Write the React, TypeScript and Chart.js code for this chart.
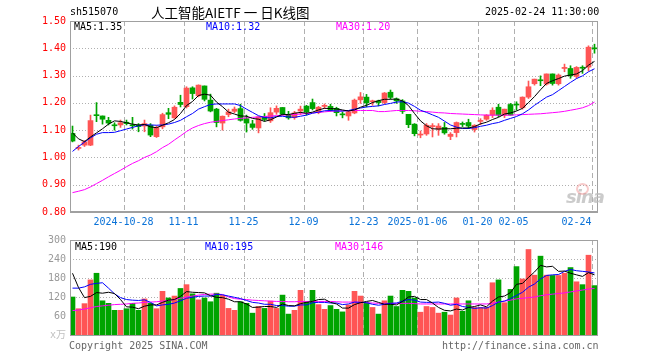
import React, { useEffect, useRef } from 'react';
import { Chart, registerables } from 'chart.js';

Chart.register(...registerables);

// ---- Daily K-line data (88 trading days, 2024-10-15 .. 2025-02-24) ----
const OPEN = [
  1.088, 1.033, 1.045, 1.045, 1.155, 1.152, 1.136, 1.118, 1.119, 1.129,
  1.117, 1.118, 1.115, 1.118, 1.076, 1.112, 1.164, 1.145, 1.202, 1.186,
  1.255, 1.226, 1.262, 1.210, 1.177, 1.126, 1.157, 1.169, 1.179, 1.142,
  1.123, 1.108, 1.150, 1.134, 1.166, 1.183, 1.156, 1.146, 1.170, 1.188,
  1.201, 1.165, 1.187, 1.187, 1.180, 1.158, 1.152, 1.163, 1.211, 1.221,
  1.204, 1.207, 1.201, 1.239, 1.215, 1.207, 1.158, 1.122, 1.082, 1.086,
  1.113, 1.103, 1.110, 1.077, 1.091, 1.123, 1.128, 1.102, 1.132, 1.140,
  1.155, 1.184, 1.155, 1.194, 1.195, 1.182, 1.221, 1.270, 1.283, 1.269,
  1.306, 1.270, 1.326, 1.326, 1.297, 1.330, 1.331, 1.400,
];
const HIGH = [
  1.115, 1.045, 1.062, 1.155, 1.201, 1.152, 1.147, 1.127, 1.137, 1.137,
  1.147, 1.124, 1.137, 1.124, 1.116, 1.162, 1.180, 1.189, 1.228, 1.259,
  1.259, 1.266, 1.262, 1.232, 1.180, 1.152, 1.177, 1.185, 1.195, 1.155,
  1.136, 1.149, 1.161, 1.182, 1.189, 1.183, 1.169, 1.169, 1.188, 1.191,
  1.214, 1.187, 1.196, 1.195, 1.184, 1.167, 1.172, 1.214, 1.238, 1.231,
  1.210, 1.210, 1.238, 1.247, 1.218, 1.212, 1.158, 1.124, 1.097, 1.124,
  1.124, 1.124, 1.128, 1.091, 1.130, 1.130, 1.140, 1.120, 1.142, 1.157,
  1.182, 1.195, 1.177, 1.198, 1.204, 1.222, 1.280, 1.287, 1.299, 1.306,
  1.306, 1.306, 1.342, 1.336, 1.333, 1.336, 1.409, 1.415,
];
const LOW = [
  1.057, 1.027, 1.040, 1.043, 1.131, 1.122, 1.119, 1.100, 1.110, 1.119,
  1.104, 1.094, 1.094, 1.076, 1.073, 1.105, 1.142, 1.143, 1.185, 1.181,
  1.214, 1.222, 1.207, 1.167, 1.112, 1.100, 1.149, 1.164, 1.133, 1.093,
  1.103, 1.090, 1.133, 1.128, 1.158, 1.155, 1.140, 1.140, 1.157, 1.155,
  1.174, 1.160, 1.179, 1.169, 1.152, 1.145, 1.136, 1.160, 1.198, 1.185,
  1.191, 1.189, 1.196, 1.214, 1.198, 1.161, 1.109, 1.079, 1.072, 1.081,
  1.075, 1.081, 1.085, 1.065, 1.075, 1.113, 1.106, 1.093, 1.120, 1.136,
  1.146, 1.149, 1.146, 1.155, 1.173, 1.177, 1.216, 1.265, 1.263, 1.265,
  1.265, 1.265, 1.314, 1.290, 1.290, 1.308, 1.317, 1.382,
];
const CLOSE = [
  1.060, 1.036, 1.057, 1.135, 1.153, 1.140, 1.126, 1.116, 1.127, 1.124,
  1.116, 1.113, 1.124, 1.082, 1.110, 1.157, 1.158, 1.184, 1.194, 1.254,
  1.234, 1.265, 1.213, 1.170, 1.128, 1.151, 1.167, 1.177, 1.136, 1.126,
  1.110, 1.149, 1.139, 1.164, 1.180, 1.158, 1.145, 1.163, 1.177, 1.167,
  1.179, 1.184, 1.191, 1.173, 1.164, 1.156, 1.167, 1.210, 1.222, 1.200,
  1.207, 1.201, 1.236, 1.220, 1.207, 1.169, 1.120, 1.087, 1.085, 1.118,
  1.115, 1.115, 1.090, 1.085, 1.128, 1.121, 1.115, 1.118, 1.135, 1.155,
  1.173, 1.155, 1.177, 1.155, 1.192, 1.221, 1.259, 1.287, 1.281, 1.306,
  1.271, 1.302, 1.330, 1.299, 1.330, 1.327, 1.404, 1.398,
];
const MA5 = [
  1.090, 1.068, 1.058, 1.075, 1.090, 1.105, 1.122, 1.134, 1.132, 1.127,
  1.122, 1.119, 1.121, 1.112, 1.109, 1.118, 1.127, 1.139, 1.161, 1.190,
  1.205, 1.227, 1.232, 1.228, 1.203, 1.186, 1.166, 1.159, 1.152, 1.151,
  1.143, 1.140, 1.132, 1.138, 1.148, 1.158, 1.157, 1.162, 1.165, 1.162,
  1.166, 1.174, 1.180, 1.179, 1.178, 1.174, 1.170, 1.174, 1.184, 1.191,
  1.201, 1.208, 1.213, 1.213, 1.214, 1.207, 1.190, 1.161, 1.134, 1.116,
  1.105, 1.104, 1.105, 1.105, 1.107, 1.108, 1.108, 1.113, 1.123, 1.129,
  1.139, 1.147, 1.159, 1.163, 1.170, 1.180, 1.201, 1.223, 1.248, 1.271,
  1.281, 1.289, 1.298, 1.302, 1.306, 1.318, 1.338, 1.352,
];
const MA10 = [
  1.022, 1.040, 1.056, 1.072, 1.085, 1.091, 1.091, 1.092, 1.098, 1.104,
  1.110, 1.116, 1.120, 1.119, 1.118, 1.119, 1.122, 1.128, 1.136, 1.149,
  1.161, 1.177, 1.186, 1.194, 1.196, 1.196, 1.196, 1.196, 1.190, 1.177,
  1.165, 1.153, 1.146, 1.145, 1.150, 1.151, 1.148, 1.147, 1.151, 1.155,
  1.162, 1.166, 1.171, 1.172, 1.170, 1.170, 1.172, 1.177, 1.181, 1.185,
  1.187, 1.189, 1.194, 1.198, 1.203, 1.204, 1.199, 1.187, 1.173, 1.165,
  1.156, 1.147, 1.133, 1.119, 1.111, 1.106, 1.106, 1.109, 1.114, 1.118,
  1.124, 1.128, 1.136, 1.143, 1.150, 1.160, 1.174, 1.191, 1.206, 1.221,
  1.230, 1.245, 1.260, 1.275, 1.289, 1.299, 1.314, 1.325,
];
const MA30 = [
  0.871, 0.876, 0.882, 0.892, 0.904, 0.916, 0.929, 0.941, 0.953, 0.966,
  0.978, 0.988, 1.000, 1.009, 1.021, 1.036, 1.048, 1.064, 1.079, 1.095,
  1.108, 1.117, 1.124, 1.129, 1.132, 1.135, 1.138, 1.141, 1.143, 1.145,
  1.147, 1.148, 1.150, 1.152, 1.153, 1.155, 1.156, 1.157, 1.159, 1.161,
  1.163, 1.165, 1.167, 1.169, 1.170, 1.171, 1.171, 1.172, 1.172, 1.172,
  1.172, 1.168, 1.168, 1.170, 1.172, 1.172, 1.172, 1.171, 1.169, 1.168,
  1.166, 1.164, 1.163, 1.161, 1.160, 1.159, 1.158, 1.157, 1.156, 1.155,
  1.155, 1.155, 1.155, 1.155, 1.156, 1.157, 1.158, 1.159, 1.160, 1.162,
  1.164, 1.166, 1.169, 1.173, 1.177, 1.182, 1.190, 1.203,
];

// ---- Volume (x万) ----
const VOLUME = [
  120, 83, 99, 174, 195, 108, 100, 78, 78, 83,
  100, 78, 114, 100, 83, 138, 117, 123, 147, 159,
  130, 111, 117, 105, 132, 125, 84, 78, 105, 100,
  69, 90, 84, 107, 84, 126, 66, 78, 141, 105,
  141, 96, 81, 93, 81, 73, 95, 138, 123, 102,
  87, 66, 108, 123, 90, 141, 138, 117, 72, 90,
  87, 69, 72, 63, 117, 75, 108, 87, 87, 87,
  165, 174, 102, 144, 216, 177, 270, 189, 249, 189,
  188, 188, 195, 213, 168, 159, 252, 156,
];
const VOL_MA5 = [
  195, 150, 118, 122, 134, 132, 135, 131, 112, 89,
  88, 83, 91, 95, 95, 103, 110, 112, 122, 137,
  135, 134, 133, 124, 119, 118, 113, 105, 105, 98,
  87, 88, 90, 90, 87, 98, 93, 92, 99, 103,
  106, 112, 113, 103, 98, 85, 85, 96, 102, 106,
  109, 103, 97, 97, 95, 106, 120, 122, 112, 112,
  101, 87, 78, 76, 82, 79, 87, 90, 95, 89,
  107, 120, 123, 134, 160, 163, 182, 199, 220, 215,
  217, 201, 202, 195, 190, 185, 197, 190,
];
const VOL_MA10 = [
  148, 148, 152, 160, 163, 165, 148, 130, 118, 112,
  110, 109, 111, 103, 92, 95, 97, 101, 108, 116,
  119, 122, 123, 123, 128, 127, 123, 119, 115, 109,
  103, 101, 97, 97, 93, 93, 91, 91, 95, 95,
  102, 103, 103, 101, 101, 96, 98, 104, 103, 102,
  97, 94, 97, 100, 101, 107, 112, 110, 104, 103,
  103, 104, 100, 94, 97, 90, 87, 84, 86, 85,
  93, 104, 107, 115, 125, 135, 151, 161, 177, 188,
  190, 191, 201, 207, 203, 201, 199, 196,
];
const VOL_MA30 = [
  77, 79, 82, 86, 90, 92, 94, 96, 97, 98,
  100, 101, 103, 104, 105, 107, 109, 112, 116, 120,
  123, 126, 128, 129, 129, 128, 120, 115, 113, 112,
  110, 109, 108, 107, 106, 106, 105, 105, 106, 106,
  106, 106, 106, 106, 105, 104, 104, 104, 103, 102,
  101, 100, 100, 100, 100, 100, 100, 99, 98, 98,
  98, 98, 98, 98, 98, 98, 98, 98, 98, 98,
  100, 104, 107, 110, 114, 116, 118, 120, 124, 127,
  129, 131, 133, 136, 139, 142, 145, 147,
];

// ---- Date axis ----
const TICK_INDEX = [9, 19, 29, 39, 49, 58, 68, 74, 87];
const TICK_LABELS = ['2024-10-28', '11-11', '11-25', '12-09', '12-23', '2025-01-06', '01-20', '02-05', '02-24'];

// ---- Styles ----
const N = CLOSE.length;
const X_SHIFT = 1 / 12;
const RED = '#ff5555';
const GREEN = '#00a400';
const FRAME = '#a0a0a0';
const GRID = '#b0b0b0';
const MONO = '"DejaVu Sans Mono", "Noto Sans CJK SC", monospace';

const idx = CLOSE.map((_, i) => i);
const colorOf = (i: number) => (CLOSE[i] >= OPEN[i] ? RED : GREEN);
const pts = (arr: number[]) => arr.map((v, i) => ({ x: i + 0.5, y: v }));

function framePlugin(bottomWidth: number) {
  return {
    id: 'sinaFrame',
    beforeDatasetsDraw(chart: any) {
      const { ctx, chartArea: a, scales } = chart;
      const xs = scales.x;
      const ys = scales.y;
      ctx.save();
      ctx.lineWidth = 1;
      ctx.strokeStyle = GRID;
      ctx.setLineDash([1, 2]);
      ys.ticks.forEach((t: any) => {
        if (t.value <= ys.min + 1e-9 || t.value >= ys.max - 1e-9) return;
        const py = Math.round(ys.getPixelForValue(t.value)) + 0.5;
        ctx.beginPath();
        ctx.moveTo(a.left, py);
        ctx.lineTo(a.right, py);
        ctx.stroke();
      });
      ctx.setLineDash([5, 3]);
      TICK_INDEX.forEach((v) => {
        const px = Math.round(xs.getPixelForValue(v)) + 0.5;
        ctx.beginPath();
        ctx.moveTo(px, a.top);
        ctx.lineTo(px, a.bottom);
        ctx.stroke();
      });
      ctx.restore();
    },
    afterDatasetsDraw(chart: any) {
      const { ctx, chartArea: a } = chart;
      ctx.save();
      ctx.strokeStyle = FRAME;
      ctx.lineWidth = 1;
      ctx.beginPath();
      ctx.moveTo(a.left, a.top + 0.5);
      ctx.lineTo(a.right, a.top + 0.5);
      ctx.moveTo(a.left + 0.5, a.top);
      ctx.lineTo(a.left + 0.5, a.bottom);
      ctx.moveTo(a.right - 0.5, a.top);
      ctx.lineTo(a.right - 0.5, a.bottom);
      ctx.stroke();
      ctx.lineWidth = bottomWidth;
      ctx.beginPath();
      const by = bottomWidth === 2 ? a.bottom : a.bottom + 0.5;
      ctx.moveTo(a.left, by);
      ctx.lineTo(a.right, by);
      ctx.stroke();
      ctx.restore();
    },
  };
}

function xScale(show: boolean) {
  return {
    type: 'linear',
    offset: false,
    min: X_SHIFT,
    max: N + X_SHIFT,
    display: show,
    grid: { display: false, drawTicks: false, offset: false },
    border: { display: false },
    afterBuildTicks: (axis: any) => {
      axis.ticks = TICK_INDEX.map((v) => ({ value: v }));
    },
    afterFit: (axis: any) => {
      axis.height = show ? 20 : 0;
    },
    ticks: {
      autoSkip: false,
      maxRotation: 0,
      minRotation: 0,
      padding: 4,
      color: '#0a72d8',
      font: { family: MONO, size: 10 },
      callback: (v: any) => {
        const k = TICK_INDEX.indexOf(Number(v));
        if (k < 0) return '';
        // the last label sits at the right edge: keep it inside the frame
        return k === TICK_INDEX.length - 1 ? TICK_LABELS[k] + '     ' : TICK_LABELS[k];
      },
    },
  };
}

function lineSet(arr: number[], color: string, order: number) {
  return {
    type: 'line',
    data: pts(arr),
    borderColor: color,
    borderWidth: 1,
    pointRadius: 0,
    tension: 0,
    order,
  };
}

const txt = (extra: any) => ({
  position: 'absolute',
  whiteSpace: 'nowrap',
  fontFamily: MONO,
  fontSize: 10,
  lineHeight: '10px',
  ...extra,
});

export default function App() {
  const priceRef = useRef<HTMLCanvasElement>(null);
  const volRef = useRef<HTMLCanvasElement>(null);

  useEffect(() => {
    const price = new Chart(priceRef.current as HTMLCanvasElement, {
      type: 'bar',
      data: {
        datasets: [
          lineSet(MA5, '#000000', 0),
          lineSet(MA10, '#0000ff', 1),
          lineSet(MA30, '#ff00ff', 2),
          {
            type: 'bar',
            data: idx.map((i) => ({ x: i + 0.5, y: [OPEN[i], CLOSE[i]] })),
            backgroundColor: idx.map(colorOf),
            borderWidth: 0,
            barThickness: 5,
            minBarLength: 1,
            grouped: false,
            order: 3,
          },
          {
            type: 'bar',
            data: idx.map((i) => ({ x: i + 0.5, y: [LOW[i], HIGH[i]] })),
            backgroundColor: idx.map(colorOf),
            borderWidth: 0,
            barThickness: 1,
            minBarLength: 1,
            grouped: false,
            order: 4,
          },
        ] as any,
      },
      options: {
        animation: false,
        responsive: false,
        events: [],
        layout: { padding: { top: 21, right: 62, bottom: 0, left: 0 } },
        plugins: { legend: { display: false }, tooltip: { enabled: false } },
        scales: {
          x: xScale(true) as any,
          y: {
            type: 'linear',
            min: 0.8,
            max: 1.5,
            grid: { display: false, drawTicks: false },
            border: { display: false },
            afterFit: (axis: any) => {
              axis.width = 70;
            },
            ticks: {
              stepSize: 0.1,
              padding: 4,
              color: '#ff0000',
              font: { family: MONO, size: 10 },
              callback: (v: any) => Number(v).toFixed(2),
            },
          },
        },
      },
      plugins: [framePlugin(2)],
    });

    const vol = new Chart(volRef.current as HTMLCanvasElement, {
      type: 'bar',
      data: {
        datasets: [
          lineSet(VOL_MA5, '#000000', 0),
          lineSet(VOL_MA10, '#0000ff', 1),
          lineSet(VOL_MA30, '#ff00ff', 2),
          {
            type: 'bar',
            data: idx.map((i) => ({ x: i + 0.5, y: VOLUME[i] })),
            backgroundColor: idx.map(colorOf),
            borderWidth: 0,
            barThickness: 5,
            grouped: false,
            order: 3,
          },
        ] as any,
      },
      options: {
        animation: false,
        responsive: false,
        events: [],
        layout: { padding: { top: 10, right: 62, bottom: 5, left: 0 } },
        plugins: { legend: { display: false }, tooltip: { enabled: false } },
        scales: {
          x: xScale(false) as any,
          y: {
            type: 'linear',
            min: 0,
            max: 300,
            grid: { display: false, drawTicks: false },
            border: { display: false },
            afterFit: (axis: any) => {
              axis.width = 70;
            },
            ticks: {
              stepSize: 60,
              padding: 4,
              color: (c: any) => (c.tick && c.tick.value === 0 ? '#c0c0c0' : '#999999'),
              font: { family: MONO, size: 10 },
              callback: (v: any) => (Number(v) === 0 ? 'x万' : String(v)),
            },
          },
        },
      },
      plugins: [framePlugin(1)],
    });

    return () => {
      price.destroy();
      vol.destroy();
    };
  }, []);

  return (
    <div style={{ position: 'absolute', left: 0, top: 0, width: 660, height: 360, background: '#ffffff', overflow: 'hidden' }}>
      <canvas ref={priceRef} width={660} height={232} style={{ position: 'absolute', left: 0, top: 0 }} />
      <canvas ref={volRef} width={660} height={115} style={{ position: 'absolute', left: 0, top: 230 }} />

      <div style={txt({ left: 70, top: 7, color: '#000' }) as any}>sh515070</div>
      <div style={{ position: 'absolute', left: 151, top: 4, whiteSpace: 'nowrap', fontFamily: '"Noto Sans CJK SC", sans-serif', fontSize: 13.5, lineHeight: '16px', color: '#000' }}>
        人工智能AIETF 一 日K线图
      </div>
      <div style={txt({ left: 485, top: 7, color: '#000' }) as any}>2025-02-24 11:30:00</div>

      <div style={txt({ left: 74, top: 22, color: '#000' }) as any}>MA5:1.35</div>
      <div style={txt({ left: 206, top: 22, color: '#0000ff' }) as any}>MA10:1.32</div>
      <div style={txt({ left: 336, top: 22, color: '#ff00ff' }) as any}>MA30:1.20</div>

      <div style={{ position: 'absolute', left: 566, top: 188, fontFamily: '"DejaVu Sans", sans-serif', fontStyle: 'italic', fontWeight: 'bold', fontSize: 18, lineHeight: '18px', color: 'rgba(185,185,185,0.75)', letterSpacing: -1 }}>
        sina
      </div>
      <div style={{ position: 'absolute', left: 576, top: 183, width: 9, height: 8, borderRadius: '50%', border: '2px solid rgba(240,140,140,0.45)' }} />

      <div style={txt({ left: 75, top: 242, color: '#000' }) as any}>MA5:190</div>
      <div style={txt({ left: 205, top: 242, color: '#0000ff' }) as any}>MA10:195</div>
      <div style={txt({ left: 335, top: 242, color: '#ff00ff' }) as any}>MA30:146</div>

      <div style={txt({ left: 69, top: 341, color: '#666' }) as any}>Copyright 2025 SINA.COM</div>
      <div style={txt({ left: 442, top: 341, color: '#666' }) as any}>http://finance.sina.com.cn</div>
    </div>
  );
}
